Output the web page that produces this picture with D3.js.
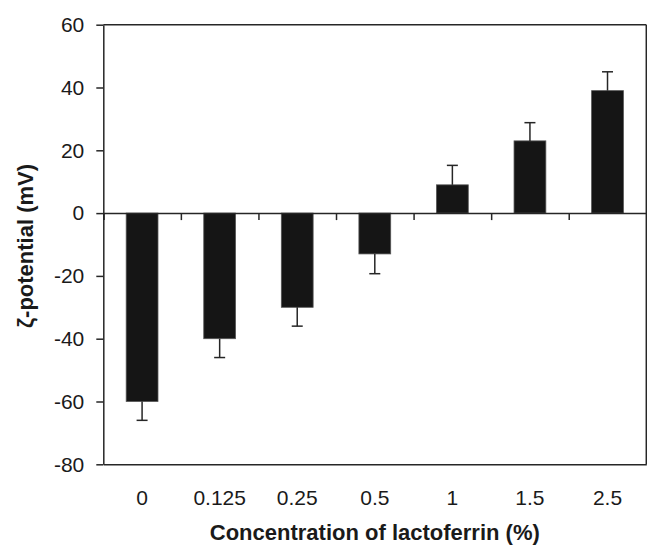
<!DOCTYPE html>
<html>
<head>
<meta charset="utf-8">
<script src="https://cdn.jsdelivr.net/npm/d3@7"></script>
<style>
  body { margin: 0; background: #fff; }
  svg text { font-family: "Liberation Sans", Arial, sans-serif; fill: #1a1a1a; }
</style>
</head>
<body>
<div id="visualization"></div>
<script>
// data
const categories = ['0', '0.125', '0.25', '0.5', '1', '1.5', '2.5'];
const zeta = [-60, -40, -30, -13, 9, 23, 39];
const zetaErr = [6, 6, 6, 6.3, 6.2, 5.8, 6];
const yTicks = [-80, -60, -40, -20, 0, 20, 40, 60];

const margin = { top: 24.7, right: 0.7, bottom: 80.7, left: 103.3 };
const width = 647 - margin.left - margin.right;
const height = 545 - margin.top - margin.bottom;
const axisColor = '#262626';

const svg = d3.select('#visualization')
    .append('svg')
    .attr('width', 647)
    .attr('height', 545)
    .append('g')
    .attr('transform', `translate(${margin.left},${margin.top})`);

const x = d3.scaleBand()
    .domain(categories)
    .range([0, width])
    .padding(0);

// index scale for the separator ticks between categories
const xEdge = d3.scaleLinear()
    .domain([0, categories.length])
    .range([0, width]);

const y = d3.scaleLinear()
    .domain([-80, 60])
    .range([height, 0]);

const barW = x.bandwidth() * 0.41;
const data = categories.map((c, i) => ({ c, v: zeta[i], e: zetaErr[i] }));

// frame: top and right edges
svg.append('line')
    .attr('x1', 0).attr('x2', width)
    .attr('y1', 0).attr('y2', 0)
    .attr('stroke', axisColor).attr('stroke-width', 1.5);
svg.append('line')
    .attr('x1', width).attr('x2', width)
    .attr('y1', 0).attr('y2', height)
    .attr('stroke', axisColor).attr('stroke-width', 1.5);

// bars
svg.selectAll('.bar')
    .data(data)
    .enter()
    .append('rect')
    .attr('class', 'bar')
    .attr('x', d => x(d.c) + (x.bandwidth() - barW) / 2)
    .attr('y', d => y(Math.max(0, d.v)))
    .attr('width', barW)
    .attr('height', d => Math.abs(y(d.v) - y(0)))
    .attr('fill', '#151515')
    .attr('stroke', '#555')
    .attr('stroke-width', 0.8);

// error bars, one-sided away from zero
const errEnd = d => y(d.v + Math.sign(d.v) * d.e);
svg.selectAll('.err')
    .data(data)
    .enter()
    .append('line')
    .attr('class', 'err')
    .attr('x1', d => x(d.c) + x.bandwidth() / 2)
    .attr('x2', d => x(d.c) + x.bandwidth() / 2)
    .attr('y1', d => y(d.v))
    .attr('y2', errEnd)
    .attr('stroke', axisColor)
    .attr('stroke-width', 1.5);

svg.selectAll('.cap')
    .data(data)
    .enter()
    .append('line')
    .attr('class', 'cap')
    .attr('x1', d => x(d.c) + x.bandwidth() / 2 - 5.5)
    .attr('x2', d => x(d.c) + x.bandwidth() / 2 + 5.5)
    .attr('y1', errEnd)
    .attr('y2', errEnd)
    .attr('stroke', axisColor)
    .attr('stroke-width', 1.5);

// zero line with separator ticks
const zeroAxis = svg.append('g')
    .attr('transform', `translate(0,${y(0)})`)
    .call(d3.axisBottom(xEdge).ticks(categories.length).tickSize(7).tickFormat(''));
zeroAxis.select('.domain').attr('stroke', axisColor).attr('stroke-width', 1.5);
zeroAxis.selectAll('.tick line').attr('stroke', axisColor).attr('stroke-width', 1.5);

// bottom axis with category labels
const bottomAxis = svg.append('g')
    .attr('transform', `translate(0,${height})`)
    .call(d3.axisBottom(x).tickSize(0));
bottomAxis.select('.domain').attr('stroke', axisColor).attr('stroke-width', 1.5);
bottomAxis.selectAll('text')
    .attr('dy', null)
    .attr('y', 40.7)
    .style('font-size', '21px');

// left axis, plain hyphen minus as in the reference
const leftAxis = svg.append('g')
    .call(d3.axisLeft(y).tickValues(yTicks).tickSize(7).tickPadding(12).tickSizeOuter(0)
        .tickFormat(d => String(d)));
leftAxis.select('.domain').attr('stroke', axisColor).attr('stroke-width', 1.5);
leftAxis.selectAll('.tick line').attr('stroke', axisColor).attr('stroke-width', 1.5);
leftAxis.selectAll('text').style('font-size', '21px');

// axis titles
svg.append('text')
    .attr('x', width / 2)
    .attr('y', height + 75.5)
    .attr('text-anchor', 'middle')
    .style('font-size', '22px')
    .style('font-weight', 'bold')
    .text('Concentration of lactoferrin (%)');

svg.append('text')
    .attr('transform', `translate(${33 - margin.left},${246 - margin.top}) rotate(-90)`)
    .attr('text-anchor', 'middle')
    .style('font-size', '22px')
    .style('font-weight', 'bold')
    .text('ζ-potential (mV)');
</script>
</body>
</html>
